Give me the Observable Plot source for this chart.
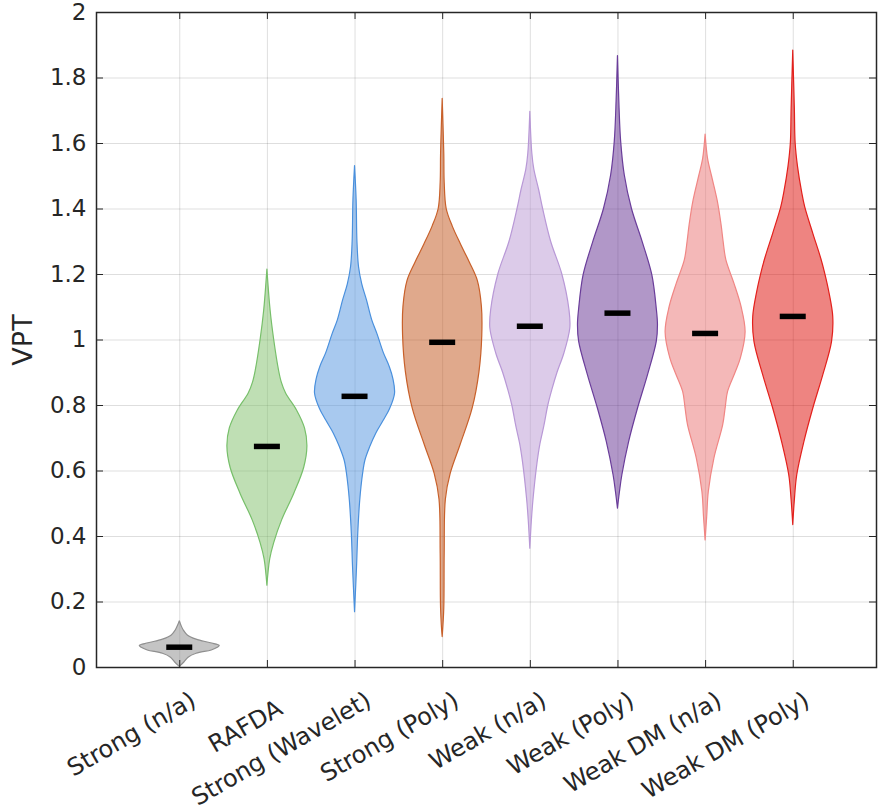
<!DOCTYPE html>
<html><head><meta charset="utf-8">
<script src="https://cdn.jsdelivr.net/npm/d3@7"></script>
<script src="https://cdn.jsdelivr.net/npm/@observablehq/plot@0.6"></script>
<style>body{margin:0;background:#fff}</style>
</head><body><div id="chart"></div>
<script>
const categories = ["Strong (n/a)", "RAFDA", "Strong (Wavelet)", "Strong (Poly)", "Weak (n/a)", "Weak (Poly)", "Weak DM (n/a)", "Weak DM (Poly)"];
const medians = [0.062, 0.675, 0.828, 0.993, 1.042, 1.082, 1.02, 1.072];
const yTicks = [0, 0.2, 0.4, 0.6, 0.8, 1, 1.2, 1.4, 1.6, 1.8, 2];
const yTickLabels = ["0", "0.2", "0.4", "0.6", "0.8", "1", "1.2", "1.4", "1.6", "1.8", "2"];
// violin outlines: VPT value and relative density (1 = widest)
const strongNaY = [0.002, 0.016, 0.03, 0.042, 0.052, 0.06, 0.066, 0.074, 0.085, 0.098, 0.113, 0.128, 0.141];
const strongNaW = [0, 0.12, 0.22, 0.42, 0.8, 0.95, 1.0, 0.78, 0.42, 0.2, 0.1, 0.04, 0];
const rafdaY = [0.25, 0.33, 0.38, 0.45, 0.53, 0.61, 0.675, 0.73, 0.785, 0.836, 0.87, 0.907, 1.0, 1.09, 1.215];
const rafdaW = [0, 0.07, 0.17, 0.37, 0.67, 0.92, 1.0, 0.94, 0.74, 0.47, 0.36, 0.29, 0.17, 0.08, 0];
const strongWavY = [0.169, 0.306, 0.408, 0.51, 0.59, 0.632, 0.673, 0.714, 0.754, 0.79, 0.836, 0.88, 0.917, 0.96, 1.018, 1.06, 1.12, 1.17, 1.222, 1.3, 1.426, 1.531];
const strongWavW = [0, 0.05, 0.08, 0.13, 0.2, 0.26, 0.38, 0.53, 0.72, 0.88, 1.0, 0.96, 0.87, 0.72, 0.56, 0.43, 0.3, 0.18, 0.1, 0.06, 0.04, 0];
const strongPolyY = [0.093, 0.18, 0.347, 0.513, 0.591, 0.68, 0.791, 0.902, 1.013, 1.102, 1.18, 1.236, 1.291, 1.347, 1.40, 1.48, 1.569, 1.736];
const strongPolyW = [0, 0.04, 0.05, 0.08, 0.2, 0.45, 0.75, 0.92, 0.99, 0.98, 0.88, 0.68, 0.46, 0.25, 0.1, 0.05, 0.04, 0];
const weakNaY = [0.363, 0.45, 0.513, 0.624, 0.68, 0.736, 0.8, 0.847, 0.9, 0.958, 1.036, 1.09, 1.2, 1.3, 1.4, 1.458, 1.52, 1.569, 1.697];
const weakNaW = [0, 0.04, 0.08, 0.18, 0.25, 0.35, 0.45, 0.55, 0.68, 0.85, 1.0, 0.98, 0.8, 0.52, 0.32, 0.22, 0.1, 0.05, 0];
const weakPolyY = [0.485, 0.536, 0.587, 0.689, 0.79, 0.892, 0.994, 1.045, 1.095, 1.197, 1.298, 1.40, 1.503, 1.605, 1.707, 1.867];
const weakPolyW = [0, 0.05, 0.11, 0.28, 0.5, 0.75, 0.97, 1.0, 0.97, 0.86, 0.62, 0.35, 0.17, 0.08, 0.04, 0];
const weakDmNaY = [0.388, 0.46, 0.536, 0.638, 0.74, 0.79, 0.841, 0.9, 0.943, 1.024, 1.1, 1.172, 1.243, 1.3, 1.35, 1.426, 1.5, 1.554, 1.627];
const weakDmNaW = [0, 0.04, 0.08, 0.22, 0.44, 0.5, 0.56, 0.75, 0.88, 1.0, 0.9, 0.72, 0.52, 0.45, 0.4, 0.3, 0.16, 0.06, 0];
const weakDmPolyY = [0.435, 0.51, 0.587, 0.689, 0.79, 0.892, 0.994, 1.07, 1.147, 1.202, 1.248, 1.325, 1.405, 1.452, 1.528, 1.6, 1.707, 1.884];
const weakDmPolyW = [0, 0.04, 0.1, 0.28, 0.5, 0.75, 0.97, 1.0, 0.9, 0.8, 0.7, 0.5, 0.3, 0.22, 0.12, 0.06, 0.04, 0];

const profilesY = [strongNaY, rafdaY, strongWavY, strongPolyY, weakNaY, weakPolyY, weakDmNaY, weakDmPolyY];
const profilesW = [strongNaW, rafdaW, strongWavW, strongPolyW, weakNaW, weakPolyW, weakDmNaW, weakDmPolyW];
const fillColors = ["#8a8a8a", "#7fbf69", "#5193df", "#c15319", "#b997d3", "#632f91", "#e97171", "#dd0903"];
const strokeColors = ["#8f8f8f", "#77bf6a", "#4a90dd", "#c8602a", "#b898d6", "#6a3d9a", "#f08684", "#e3201c"];

const W = 886, H = 812, mL = 96, mR = 10, mT = 12, mB = 145;
const xDom = [0.05, 8.95], yDom = [0, 2];
const pxX = (W - mL - mR) / (xDom[1] - xDom[0]);
const pxY = (H - mT - mB) / (yDom[1] - yDom[0]);
const halfW = 40 / pxX, barHalf = 13 / pxX;
const tickX = 7 / pxX, tickY = 7 / pxY;
const xIdx = categories.map((d, i) => i + 1);
const font = "'DejaVu Sans', sans-serif";
const hasDesc = (s) => /[gy()]/.test(s);

const marks = [];
marks.push(Plot.ruleX(xIdx, {x: d => d, stroke: "#000", strokeOpacity: 0.13}));
marks.push(Plot.ruleY(yTicks, {y: d => d, stroke: "#000", strokeOpacity: 0.13}));
categories.forEach((c, i) => {
  const rows = profilesY[i].map((y, j) => ({y, w: profilesW[i][j]}));
  marks.push(Plot.areaX(rows, {
    y: "y", x1: d => i + 1 - d.w * halfW, x2: d => i + 1 + d.w * halfW,
    fill: fillColors[i], fillOpacity: 0.5, stroke: strokeColors[i], strokeWidth: 1.2,
    curve: "catmull-rom"
  }));
});
marks.push(Plot.ruleY(medians, {y: d => d, x1: (d, i) => i + 1 - barHalf, x2: (d, i) => i + 1 + barHalf, stroke: "#000", strokeWidth: 5.5}));
marks.push(Plot.frame({stroke: "#262626", strokeWidth: 1.5}));
marks.push(Plot.ruleX(xIdx, {x: d => d, y1: 0, y2: tickY, stroke: "#262626"}));
marks.push(Plot.ruleX(xIdx, {x: d => d, y1: 2 - tickY, y2: 2, stroke: "#262626"}));
marks.push(Plot.ruleY(yTicks, {y: d => d, x1: xDom[0], x2: xDom[0] + tickX, stroke: "#262626"}));
marks.push(Plot.ruleY(yTicks, {y: d => d, x1: xDom[1] - tickX, x2: xDom[1], stroke: "#262626"}));
marks.push(Plot.text(yTicks, {x: xDom[0], y: d => d, text: (d, i) => yTickLabels[i], textAnchor: "end", lineAnchor: "middle", dx: -10, fontSize: 23, fill: "#262626", fontFamily: font}));
const labelRows = categories.map((c, i) => ({c, i: i + 1}));
marks.push(Plot.text(labelRows.filter(d => hasDesc(d.c)), {x: "i", y: 0, text: "c", rotate: -30, textAnchor: "end", lineAnchor: "middle", dx: 14, dy: 31, fontSize: 24, fill: "#262626", fontFamily: font}));
marks.push(Plot.text(labelRows.filter(d => !hasDesc(d.c)), {x: "i", y: 0, text: "c", rotate: -30, textAnchor: "end", lineAnchor: "middle", dx: 13, dy: 39, fontSize: 24, fill: "#262626", fontFamily: font}));
marks.push(Plot.text(["VPT"], {frameAnchor: "left", dx: -73, rotate: -90, text: d => d, textAnchor: "middle", lineAnchor: "middle", fontSize: 27, fill: "#262626", fontFamily: font}));

const chart = Plot.plot({
  width: W, height: H,
  marginLeft: mL, marginRight: mR, marginTop: mT, marginBottom: mB,
  x: {type: "linear", domain: xDom, axis: null},
  y: {type: "linear", domain: yDom, axis: null},
  style: {fontFamily: font, background: "#fff", overflow: "visible"},
  marks
});
document.getElementById("chart").appendChild(chart);
</script>
</body></html>
